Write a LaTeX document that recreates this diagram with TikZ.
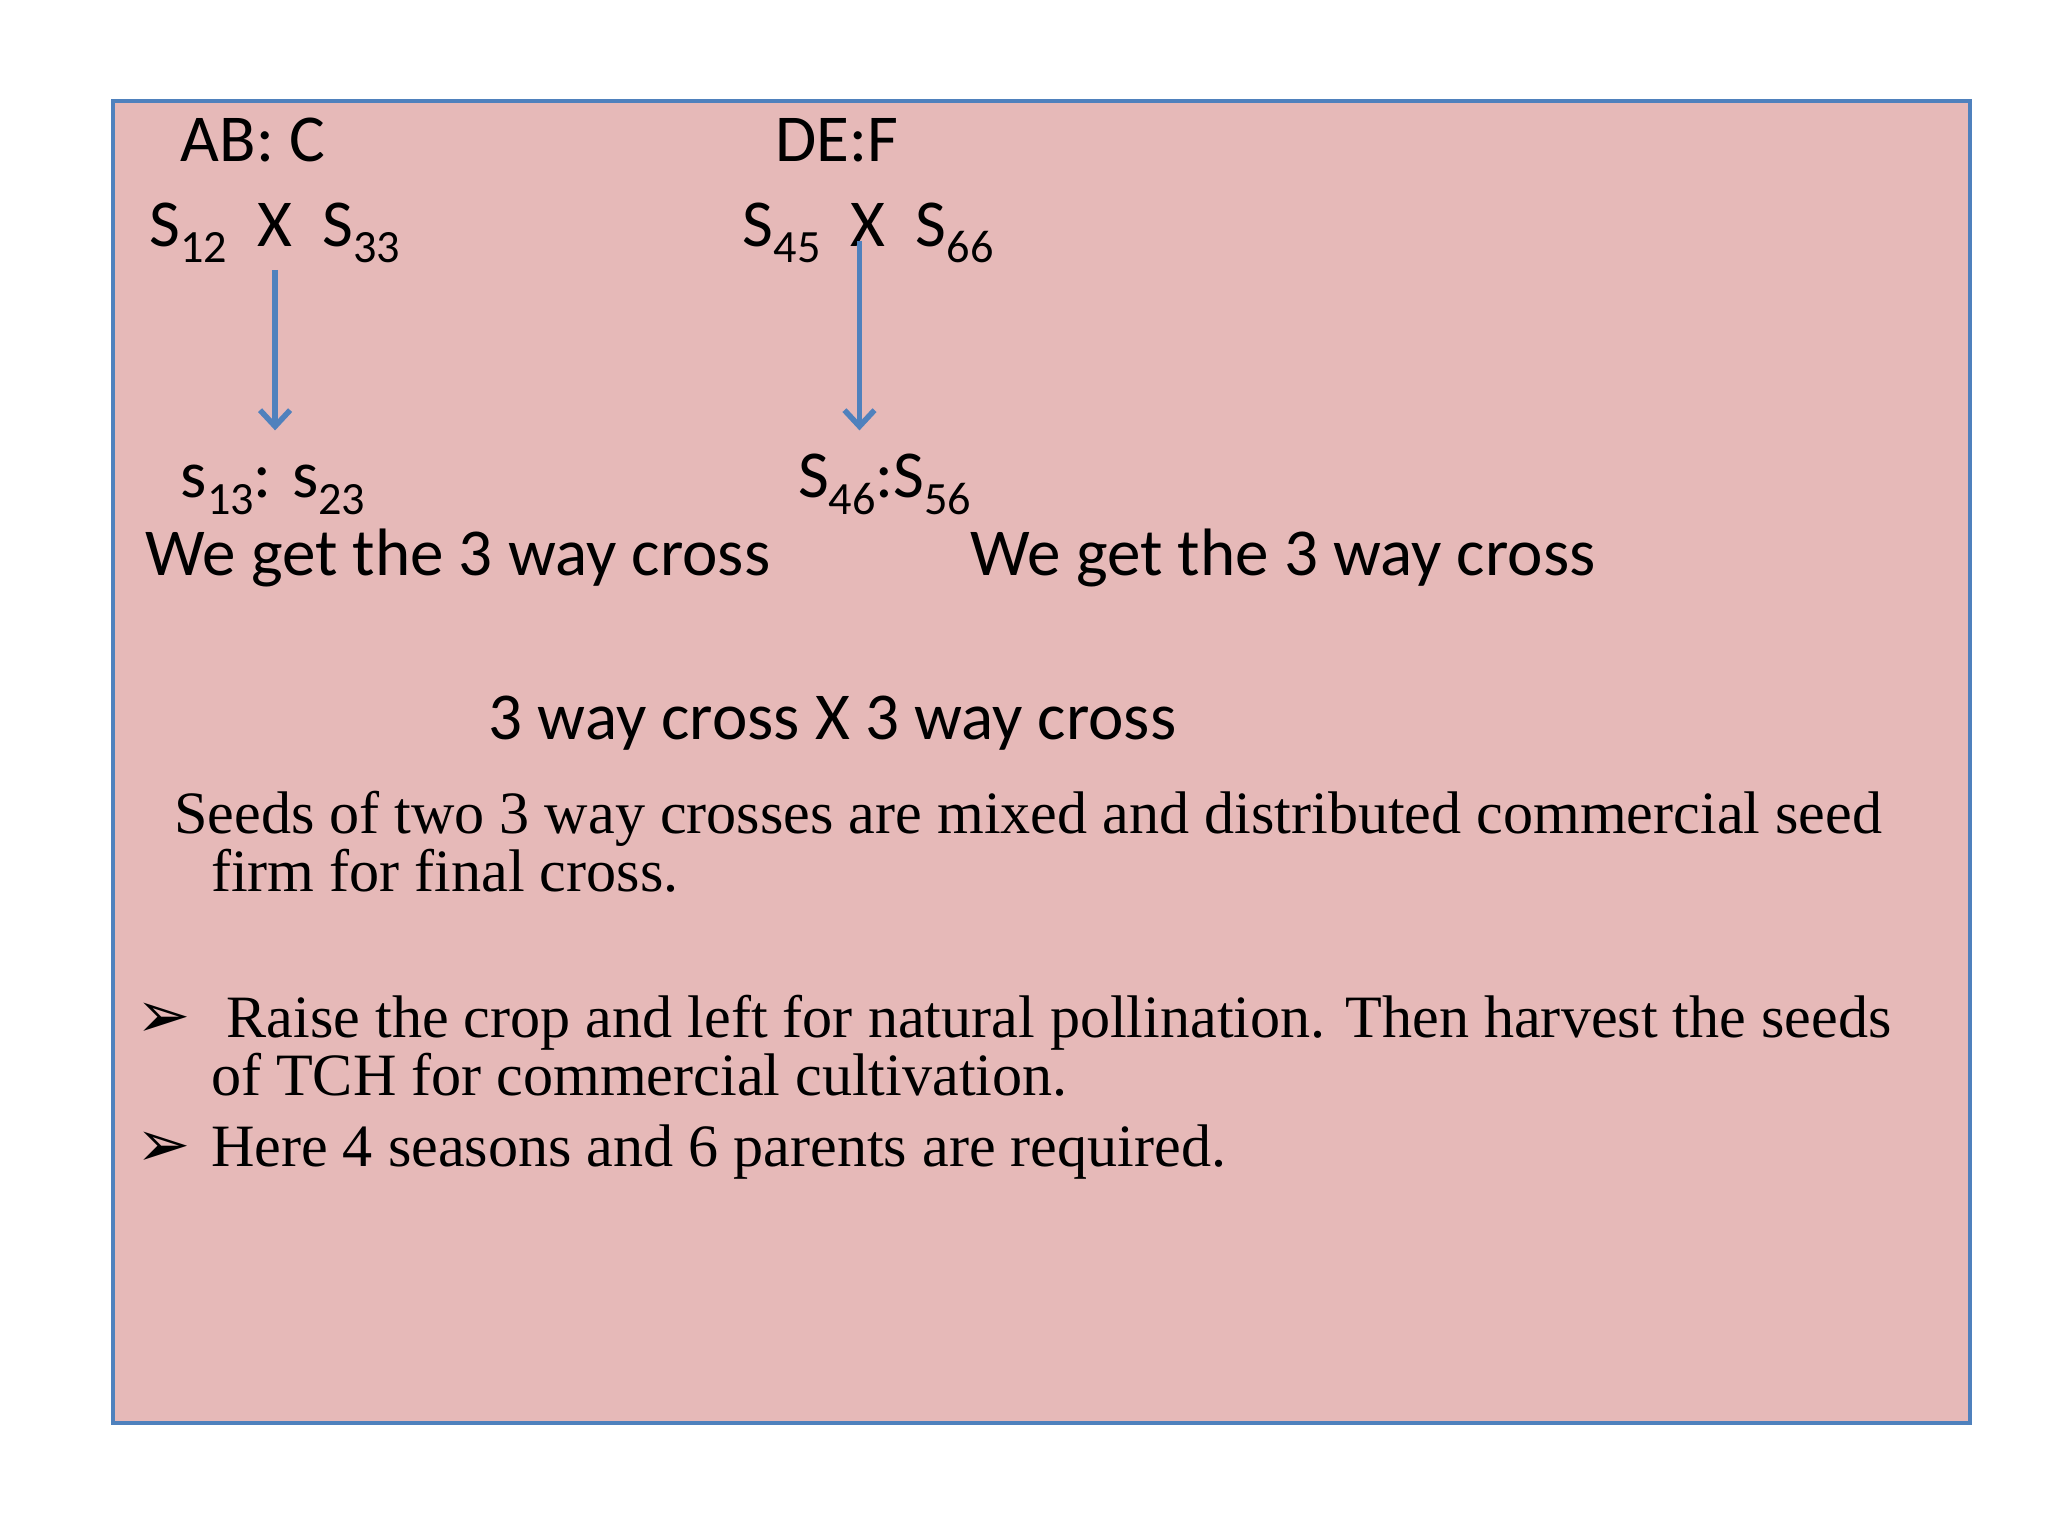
\documentclass[tikz,border=0pt]{standalone}
\usepackage{fontspec}
\setmainfont{Carlito}
\newfontfamily\serif{Liberation Serif}
\newfontfamily\dejavu{DejaVu Sans}
\newcommand{\sbx}[1]{\raisebox{-0.25em}{\fontsize{20}{20}\selectfont #1}}
\definecolor{pinkbg}{HTML}{E6B9B8}
\definecolor{bluebd}{HTML}{4F81BD}
\usetikzlibrary{arrows.meta}
\tikzset{
  cal/.style={anchor=base west, inner sep=0pt, font=\fontsize{29}{34}\selectfont},
  ser/.style={anchor=base west, inner sep=0pt, font=\serif\fontsize{26}{31}\selectfont},
  bul/.style={anchor=base west, inner sep=0pt, font=\dejavu\fontsize{28}{30}\selectfont},
  arr/.style={draw=bluebd, line width=2.4pt, -{Straight Barb[length=7pt,width=13pt,line width=2.4pt]}}
}
\begin{document}
\begin{tikzpicture}[x=0.02cm,y=-0.02cm]
\useasboundingbox (0,0) rectangle (1556,1167);
\fill[white] (0,0) rectangle (1556,1167);
\draw[fill=pinkbg, draw=bluebd, line width=1.8pt] (86,77) rectangle (1497,1081);
\node[cal] (ab) at (137,123) {AB: C};
\node[cal] (de) at (589,123) {DE:F};
\node[cal] (c1) at (113,187) {S\sbx{12}\ \ X\ \ S\sbx{33}};
\node[cal] (c2) at (564,187) {S\sbx{45}\ \ X\ \ S\sbx{66}};
\coordinate (a1s) at (209,205); \coordinate (a1e) at (209,327);
\coordinate (a2s) at (653,183); \coordinate (a2e) at (653,327);
\draw[arr] (a1s) -- (a1e);
\draw[arr] (a2s) -- (a2e);
\node[cal] (r1) at (137,378) {s\sbx{13}: s\sbx{23}};
\node[cal] (r2) at (606,378) {S\sbx{46}:S\sbx{56}};
\node[cal] (w1) at (110,437) {We get the 3 way cross};
\node[cal] (w2) at (737,437) {We get the 3 way cross};
\node[cal] (tw) at (371,562) {3 way cross X 3 way cross};
\node[ser] (s1) at (132,633) {Seeds of two 3 way crosses are mixed and distributed commercial seed};
\node[ser] (s2) at (160,677) {firm for final cross.};
\node[bul] (b1) at (103,788) {➢};
\node[ser] (t1) at (172,788) {Raise the crop and left for natural pollination. Then harvest the seeds};
\node[ser] (t2) at (160,832) {of TCH for commercial cultivation.};
\node[bul] (b2) at (103,886) {➢};
\node[ser] (t3) at (160,886) {Here 4 seasons and 6 parents are required.};
\end{tikzpicture}
\end{document}
